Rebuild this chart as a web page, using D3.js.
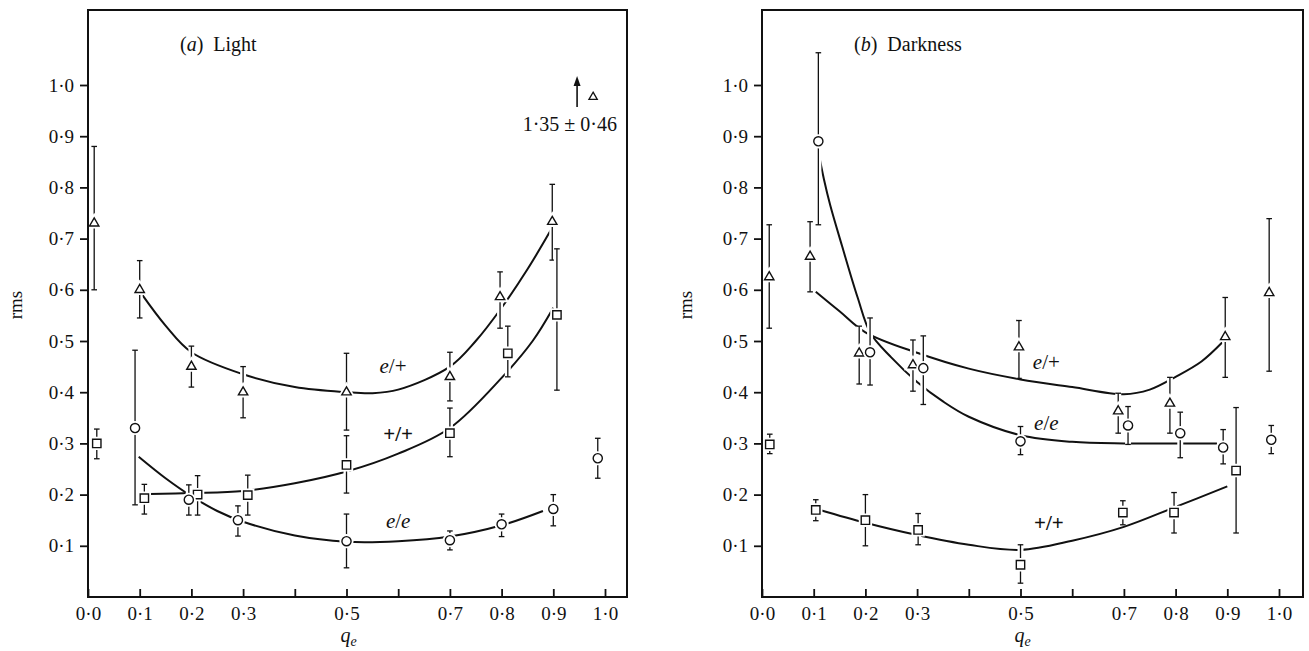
<!DOCTYPE html>
<html>
<head>
<meta charset="utf-8">
<script src="https://cdn.jsdelivr.net/npm/d3@7"></script>
<style>
  body { margin: 0; background: #fff; }
  text { font-family: "Liberation Serif", "DejaVu Serif", serif; fill: #111; }
</style>
</head>
<body>
<svg id="chart" width="1309" height="651"></svg>
<script>
// values: q_e, rms, lower / upper end of the error bar

// (a) Light
var lightTri = [
  {q: 0.012, rms: 0.73,  lo: 0.60,  hi: 0.88},
  {q: 0.10,  rms: 0.60,  lo: 0.545, hi: 0.657},
  {q: 0.20,  rms: 0.45,  lo: 0.41,  hi: 0.49},
  {q: 0.30,  rms: 0.40,  lo: 0.35,  hi: 0.45},
  {q: 0.50,  rms: 0.40,  lo: 0.326, hi: 0.476},
  {q: 0.70,  rms: 0.43,  lo: 0.383, hi: 0.478},
  {q: 0.797, rms: 0.586, lo: 0.525, hi: 0.635},
  {q: 0.898, rms: 0.733, lo: 0.658, hi: 0.806}
];
var lightSq = [
  {q: 0.017, rms: 0.30,  lo: 0.27,  hi: 0.328},
  {q: 0.109, rms: 0.193, lo: 0.162, hi: 0.22},
  {q: 0.212, rms: 0.20,  lo: 0.16,  hi: 0.237},
  {q: 0.309, rms: 0.199, lo: 0.16,  hi: 0.238},
  {q: 0.50,  rms: 0.258, lo: 0.203, hi: 0.315},
  {q: 0.70,  rms: 0.32,  lo: 0.274, hi: 0.369},
  {q: 0.812, rms: 0.476, lo: 0.43,  hi: 0.529},
  {q: 0.907, rms: 0.551, lo: 0.404, hi: 0.68}
];
var lightCirc = [
  {q: 0.091, rms: 0.33,  lo: 0.18,  hi: 0.482},
  {q: 0.195, rms: 0.19,  lo: 0.16,  hi: 0.219},
  {q: 0.29,  rms: 0.15,  lo: 0.119, hi: 0.178},
  {q: 0.50,  rms: 0.109, lo: 0.057, hi: 0.162},
  {q: 0.70,  rms: 0.111, lo: 0.092, hi: 0.129},
  {q: 0.80,  rms: 0.142, lo: 0.118, hi: 0.162},
  {q: 0.90,  rms: 0.172, lo: 0.139, hi: 0.20},
  {q: 0.986, rms: 0.271, lo: 0.232, hi: 0.31}
];
// off-scale point in (a): 1.35 +- 0.46
var lightOffscale = {q: 0.977, rms: 1.35, err: 0.46};

// fitted curves (a)
var lightCurveEplus = [[0.105,0.59],[0.15,0.53],[0.2,0.478],[0.3,0.435],[0.4,0.41],[0.5,0.40],
  [0.55,0.398],[0.6,0.405],[0.7,0.45],[0.75,0.50],[0.8,0.565],[0.85,0.64],[0.9,0.725]];
var lightCurvePlus = [[0.12,0.201],[0.2,0.203],[0.3,0.207],[0.4,0.222],[0.5,0.245],[0.6,0.28],
  [0.7,0.33],[0.8,0.428],[0.86,0.50],[0.9,0.565]];
var lightCurveEe = [[0.098,0.274],[0.15,0.232],[0.2,0.197],[0.25,0.168],[0.3,0.147],[0.4,0.12],
  [0.5,0.108],[0.6,0.109],[0.7,0.118],[0.8,0.14],[0.88,0.168]];

// (b) Darkness
var darkTri = [
  {q: 0.014, rms: 0.625, lo: 0.525, hi: 0.727},
  {q: 0.093, rms: 0.665, lo: 0.596, hi: 0.733},
  {q: 0.188, rms: 0.476, lo: 0.416, hi: 0.529},
  {q: 0.292, rms: 0.453, lo: 0.402, hi: 0.502},
  {q: 0.497, rms: 0.488, lo: 0.427, hi: 0.54},
  {q: 0.689, rms: 0.363, lo: 0.32,  hi: 0.398},
  {q: 0.789, rms: 0.378, lo: 0.32,  hi: 0.429},
  {q: 0.896, rms: 0.508, lo: 0.429, hi: 0.585},
  {q: 0.981, rms: 0.594, lo: 0.441, hi: 0.739}
];
var darkCirc = [
  {q: 0.109, rms: 0.89,  lo: 0.727, hi: 1.063},
  {q: 0.209, rms: 0.478, lo: 0.414, hi: 0.545},
  {q: 0.312, rms: 0.447, lo: 0.376, hi: 0.51},
  {q: 0.50,  rms: 0.304, lo: 0.278, hi: 0.333},
  {q: 0.708, rms: 0.335, lo: 0.298, hi: 0.372},
  {q: 0.809, rms: 0.32,  lo: 0.272, hi: 0.361},
  {q: 0.892, rms: 0.292, lo: 0.26,  hi: 0.327},
  {q: 0.985, rms: 0.307, lo: 0.28,  hi: 0.335}
];
var darkSq = [
  {q: 0.015, rms: 0.298, lo: 0.28,  hi: 0.318},
  {q: 0.104, rms: 0.17,  lo: 0.149, hi: 0.19},
  {q: 0.20,  rms: 0.15,  lo: 0.10,  hi: 0.20},
  {q: 0.302, rms: 0.131, lo: 0.102, hi: 0.163},
  {q: 0.50,  rms: 0.063, lo: 0.027, hi: 0.102},
  {q: 0.698, rms: 0.165, lo: 0.141, hi: 0.188},
  {q: 0.797, rms: 0.165, lo: 0.125, hi: 0.204},
  {q: 0.917, rms: 0.247, lo: 0.125, hi: 0.37}
];

// fitted curves (b)
var darkCurveEplus = [[0.104,0.596],[0.15,0.558],[0.2,0.517],[0.3,0.477],[0.4,0.446],[0.5,0.425],
  [0.6,0.41],[0.7,0.396],[0.75,0.405],[0.8,0.43],[0.85,0.46],[0.89,0.497]];
var darkCurveEe = [[0.108,0.875],[0.12,0.815],[0.132,0.765],[0.155,0.685],[0.185,0.585],[0.21,0.515],
  [0.25,0.468],[0.3,0.42],[0.35,0.382],[0.4,0.352],[0.5,0.316],[0.6,0.303],[0.7,0.30],[0.8,0.30],[0.88,0.30]];
var darkCurvePlus = [[0.112,0.17],[0.2,0.145],[0.3,0.121],[0.4,0.102],[0.5,0.092],[0.6,0.11],
  [0.7,0.137],[0.8,0.176],[0.9,0.216]];

var xTicks = [0, 0.1, 0.2, 0.3, 0.4, 0.5, 0.6, 0.7, 0.8, 0.9, 1.0];
var xTickLabels = ["0·0", "0·1", "0·2", "0·3", "", "0·5", "", "0·7", "0·8", "0·9", "1·0"];
var yTicks = [0.1, 0.2, 0.3, 0.4, 0.5, 0.6, 0.7, 0.8, 0.9, 1.0];

var svg = d3.select("#chart");
var y = d3.scaleLinear().domain([0, 1]).range([597, 85]);
var frameTop = 10;

var symTri = d3.symbol().type(d3.symbolTriangle).size(38);
var symCirc = d3.symbol().type(d3.symbolCircle).size(66);
var symSq = d3.symbol().type(d3.symbolSquare).size(70);

var line = d3.line().curve(d3.curveCatmullRom.alpha(0.5));

function fmt(v) { return d3.format(".1f")(v).replace(".", "·"); }
function fmt2(v) { return d3.format(".2f")(v).replace(".", "·"); }

function drawPanel(p) {
  var x = d3.scaleLinear().domain([0, 1]).range([p.x0, p.x1]);
  var g = svg.append("g");
  line.x(function(d) { return x(d[0]); }).y(function(d) { return y(d[1]); });

  // curves
  p.curves.forEach(function(c) {
    g.append("path").attr("d", line(c)).attr("fill", "none")
      .attr("stroke", "#111").attr("stroke-width", 2);
  });

  // error bars and markers
  p.series.forEach(function(s) {
    var gs = g.append("g");
    s.data.forEach(function(d) {
      var cx = x(d.q);
      // white knock-out so curves break around bars
      gs.append("line").attr("x1", cx).attr("x2", cx).attr("y1", y(d.hi)).attr("y2", y(d.lo))
        .attr("stroke", "#fff").attr("stroke-width", 6);
    });
    s.data.forEach(function(d) {
      var cx = x(d.q);
      gs.append("line").attr("x1", cx).attr("x2", cx).attr("y1", y(d.hi)).attr("y2", y(d.lo))
        .attr("stroke", "#111").attr("stroke-width", 1.3);
      [d.hi, d.lo].forEach(function(v) {
        gs.append("line").attr("x1", cx - 2.8).attr("x2", cx + 2.8).attr("y1", y(v)).attr("y2", y(v))
          .attr("stroke", "#111").attr("stroke-width", 1.3);
      });
      gs.append("path").attr("d", s.sym()).attr("transform", "translate(" + cx + "," + y(d.rms) + ")")
        .attr("fill", "#fff").attr("stroke", "#fff").attr("stroke-width", 5);
      gs.append("path").attr("d", s.sym()).attr("transform", "translate(" + cx + "," + y(d.rms) + ")")
        .attr("fill", "#fff").attr("stroke", "#111").attr("stroke-width", 1.4);
    });
  });

  // frame
  g.append("rect").attr("x", x(0)).attr("y", frameTop).attr("width", p.right - x(0))
    .attr("height", y(0) - frameTop)
    .attr("fill", "none").attr("stroke", "#111").attr("stroke-width", 2);

  // y axis, ticks outward
  var ya = g.append("g").attr("transform", "translate(" + x(0) + ",0)")
    .call(d3.axisLeft(y).tickValues(yTicks).tickFormat(fmt).tickSize(8).tickPadding(6));
  ya.select(".domain").remove();
  ya.selectAll("line").attr("stroke", "#111").attr("stroke-width", 1.8);
  ya.selectAll("text").attr("font-size", 19).attr("fill", "#111")
    .style("font-family", "'Liberation Serif', serif");

  // x axis, ticks inward
  var xa = g.append("g").attr("transform", "translate(0," + y(0) + ")")
    .call(d3.axisBottom(x).tickValues(xTicks)
      .tickFormat(function(d, i) { return xTickLabels[i]; }).tickSize(-8).tickPadding(10));
  xa.select(".domain").remove();
  xa.selectAll("line").attr("stroke", "#111").attr("stroke-width", 1.8);
  xa.selectAll("text").attr("font-size", 19).attr("fill", "#111")
    .style("font-family", "'Liberation Serif', serif");

  // title
  var t = g.append("text").attr("x", p.titleX).attr("y", 51).attr("font-size", 20);
  t.append("tspan").text("(");
  t.append("tspan").attr("font-style", "italic").text(p.letter);
  t.append("tspan").text(")");
  t.append("tspan").attr("dx", 10).text(p.title);

  // axis titles
  g.append("text").attr("transform", "translate(" + p.rmsX + ",305) rotate(-90)")
    .attr("text-anchor", "middle").attr("font-size", 19).text("rms");
  var q = g.append("text").attr("x", x(0.5) - 6).attr("y", 642).attr("font-size", 20);
  q.append("tspan").attr("font-style", "italic").text("q");
  q.append("tspan").attr("font-style", "italic").attr("font-size", 14).attr("dy", 4).text("e");

  // curve labels
  p.labels.forEach(function(l) {
    var tx = g.append("text").attr("x", x(l.q)).attr("y", y(l.rms)).attr("font-size", 21)
      .attr("text-anchor", "middle");
    l.parts.forEach(function(part) {
      tx.append("tspan").attr("font-style", part[1] ? "italic" : "normal")
        .attr("font-weight", part[2] ? "bold" : "normal").text(part[0]);
    });
  });

  return x;
}

var xa = drawPanel({
  x0: 88, x1: 605, right: 627, letter: "a", title: "Light", titleX: 180, rmsX: 22,
  curves: [lightCurveEplus, lightCurvePlus, lightCurveEe],
  series: [{data: lightTri, sym: symTri}, {data: lightSq, sym: symSq}, {data: lightCirc, sym: symCirc}],
  labels: [
    {q: 0.59, rms: 0.438, parts: [["e", true], ["/+", false]]},
    {q: 0.60, rms: 0.305, parts: [["+/+", false, true]]},
    {q: 0.60, rms: 0.135, parts: [["e", true], ["/", false], ["e", true]]}
  ]
});

// off-scale marker with arrow in (a)
var ax = xa(0.946);
svg.append("line").attr("x1", ax).attr("x2", ax).attr("y1", 107).attr("y2", 84)
  .attr("stroke", "#111").attr("stroke-width", 1.6);
svg.append("path").attr("d", "M" + ax + ",76L" + (ax - 3.5) + ",86L" + (ax + 3.5) + ",86Z").attr("fill", "#111");
svg.append("path").attr("d", d3.symbol().type(d3.symbolTriangle).size(30)())
  .attr("transform", "translate(" + xa(lightOffscale.q) + ",97)")
  .attr("fill", "#fff").attr("stroke", "#111").attr("stroke-width", 1.3);
svg.append("text").attr("x", xa(0.932)).attr("y", 131).attr("text-anchor", "middle").attr("font-size", 20)
  .text(fmt2(lightOffscale.rms) + " ± " + fmt2(lightOffscale.err));

drawPanel({
  x0: 762, x1: 1279, right: 1303, letter: "b", title: "Darkness", titleX: 854, rmsX: 692,
  curves: [darkCurveEplus, darkCurveEe, darkCurvePlus],
  series: [{data: darkTri, sym: symTri}, {data: darkSq, sym: symSq}, {data: darkCirc, sym: symCirc}],
  labels: [
    {q: 0.55, rms: 0.445, parts: [["e", true], ["/+", false]]},
    {q: 0.55, rms: 0.327, parts: [["e", true], ["/", false], ["e", true]]},
    {q: 0.555, rms: 0.13, parts: [["+/+", false, true]]}
  ]
});
</script>
</body>
</html>
